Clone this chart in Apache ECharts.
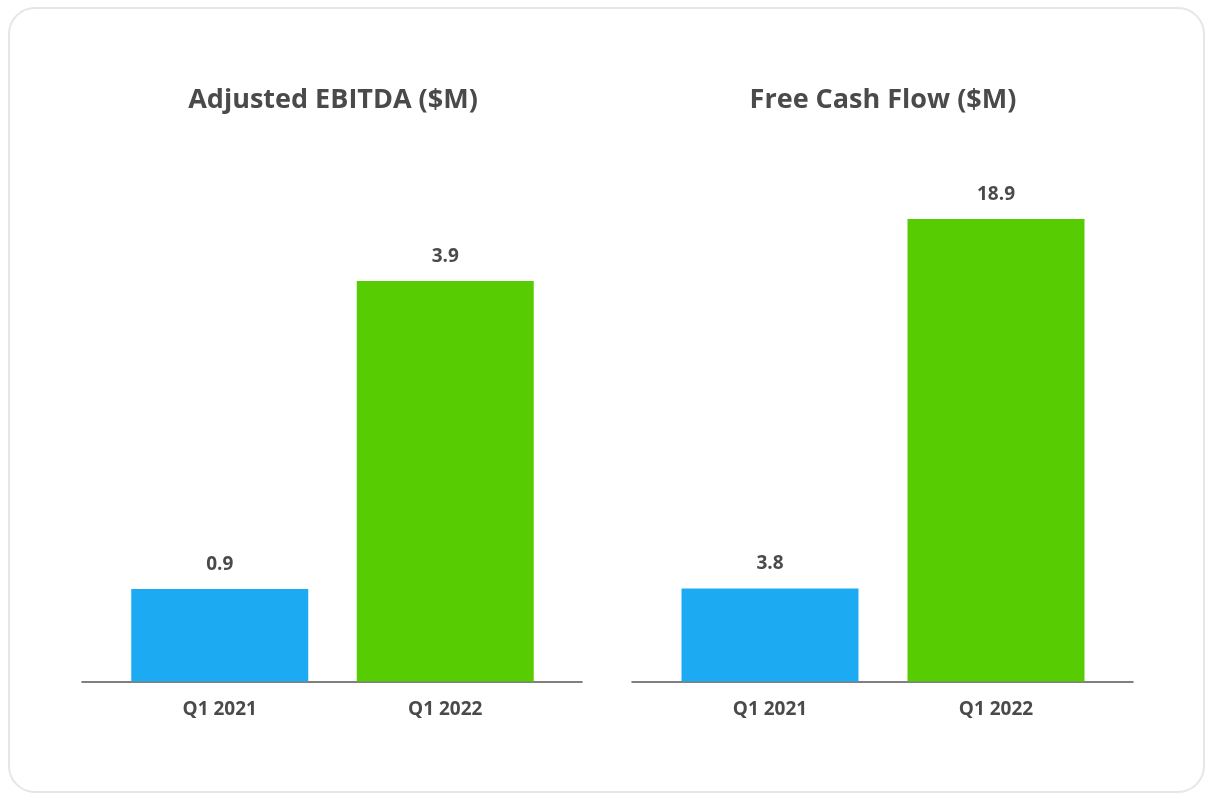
<!DOCTYPE html>
<html lang="en">
<head>
    <meta charset="UTF-8">
    <title>Adjusted EBITDA / Free Cash Flow</title>
    <script src="https://cdn.jsdelivr.net/npm/echarts@6/dist/echarts.min.js"></script>
    <style>
        html, body { margin: 0; padding: 0; background: #fff; }
        #main { width: 1208px; height: 796px; }
    </style>
</head>
<body>
<div id="main"></div>
<script>
    // data
    var categories = ['Q1 2021', 'Q1 2022'];
    var ebitdaValues = [0.9, 3.9];
    var fcfValues = [3.8, 18.9];
    var panelTitles = ['Adjusted EBITDA ($M)', 'Free Cash Flow ($M)'];

    var barColors = ['#1cabf3', '#58cc02'];
    var textColor = '#4a4a4a';
    var fontFamily = '"Open Sans", Roboto, sans-serif';

    function barSeries(values, idx) {
        return {
            type: 'bar',
            xAxisIndex: idx,
            yAxisIndex: idx,
            barWidth: 177,
            data: values.map(function (v, i) {
                return { value: v, itemStyle: { color: barColors[i] } };
            }),
            label: {
                show: true,
                position: 'top',
                distance: 15,
                fontSize: 19,
                fontWeight: 'bold',
                fontFamily: fontFamily,
                color: textColor,
                formatter: function (p) { return p.value.toFixed(1); }
            }
        };
    }

    function barXAxis(idx) {
        return {
            type: 'category',
            gridIndex: idx,
            data: categories,
            axisLine: { show: false },
            axisTick: { show: false },
            axisLabel: {
                margin: 19,
                fontSize: 19,
                fontWeight: 'bold',
                fontFamily: fontFamily,
                color: textColor
            }
        };
    }

    // plain line under each pair of bars, a bit wider than the bars
    function lineXAxis(idx) {
        return {
            type: 'value',
            gridIndex: idx,
            min: 0, max: 1,
            axisLine: { show: true, lineStyle: { color: '#555', width: 1.5 } },
            axisTick: { show: false },
            axisLabel: { show: false },
            splitLine: { show: false }
        };
    }

    function hiddenYAxis(idx, max) {
        return { type: 'value', gridIndex: idx, min: 0, max: max, show: false };
    }

    var myChart = echarts.init(document.getElementById('main'));
    var option = {
        animation: false,
        backgroundColor: '#fff',
        graphic: [{
            type: 'rect',
            shape: { x: 9, y: 8, width: 1195, height: 784, r: 26 },
            style: { fill: '#fff', stroke: '#e6e6e6', lineWidth: 2 },
            z: -10
        }],
        title: [
            {
                text: panelTitles[0], left: 333, top: 87, textAlign: 'center', padding: 0,
                textStyle: { fontSize: 27, fontWeight: 'bold', fontFamily: fontFamily, color: textColor }
            },
            {
                text: panelTitles[1], left: 883, top: 87, textAlign: 'center', padding: 0,
                textStyle: { fontSize: 27, fontWeight: 'bold', fontFamily: fontFamily, color: textColor }
            }
        ],
        grid: [
            { left: 107, width: 451, top: 281, height: 400.5 },
            { left: 657, width: 452, top: 219, height: 462.5 },
            { left: 82, width: 500, top: 281, height: 400.5 },
            { left: 632, width: 501, top: 219, height: 462.5 }
        ],
        xAxis: [barXAxis(0), barXAxis(1), lineXAxis(2), lineXAxis(3)],
        yAxis: [
            hiddenYAxis(0, 'dataMax'),
            hiddenYAxis(1, 'dataMax'),
            hiddenYAxis(2, 1),
            hiddenYAxis(3, 1)
        ],
        series: [barSeries(ebitdaValues, 0), barSeries(fcfValues, 1)]
    };
    myChart.setOption(option);
</script>
</body>
</html>
